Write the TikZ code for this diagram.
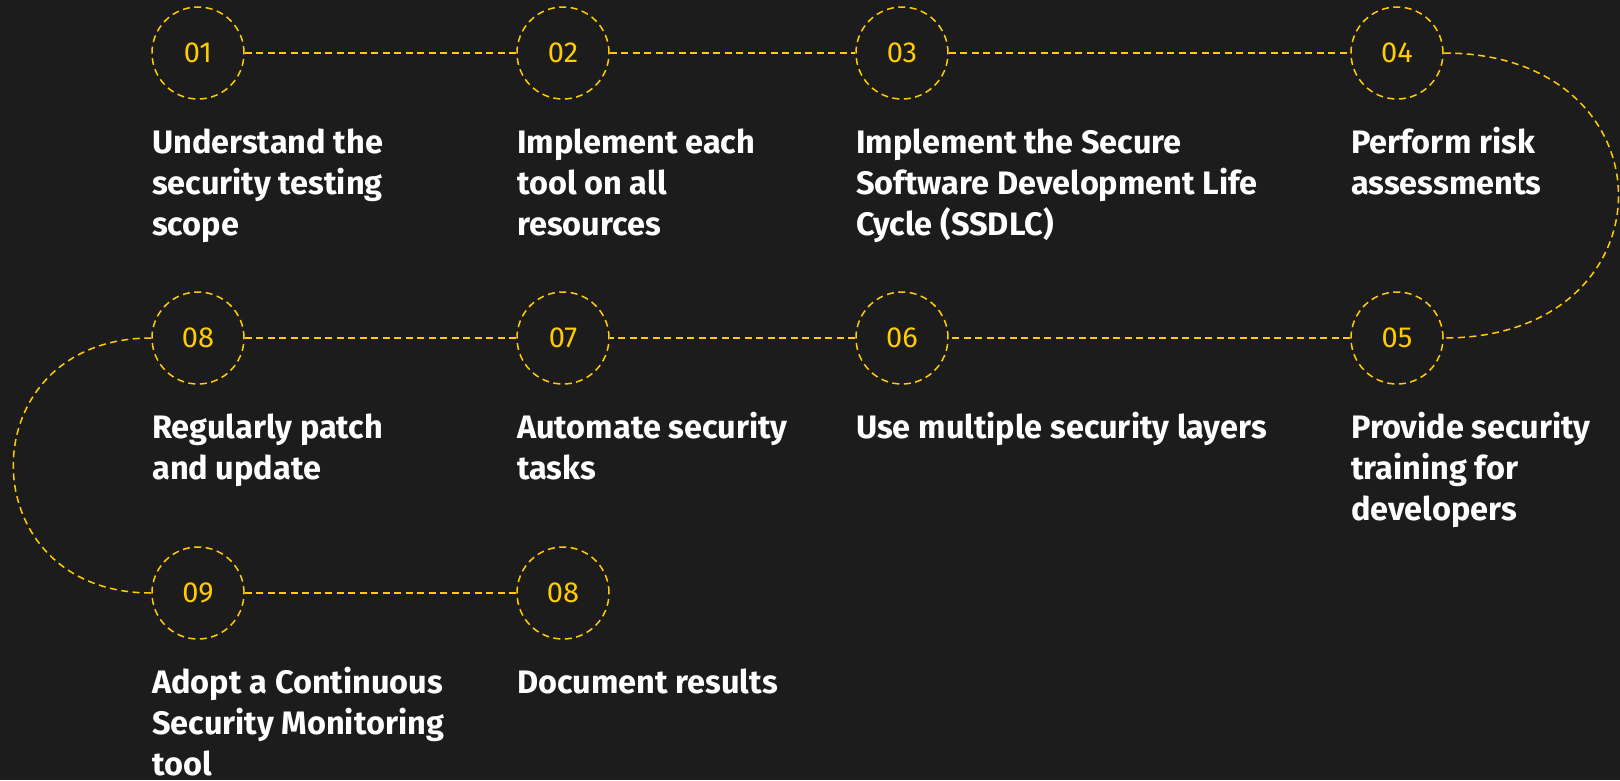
\documentclass[tikz,border=0pt]{standalone}
\usepackage{fontspec}
\setmainfont{Fira Sans}
\definecolor{bg}{HTML}{1C1C1C}
\definecolor{gold}{HTML}{FFCC00}
\begin{document}
\begin{tikzpicture}[x=1pt,y=-1pt,
  stepcircle/.style={circle, draw=gold, line width=1.5pt, dash pattern=on 7pt off 4.5pt,
    minimum size=92pt, inner sep=0pt, text=gold, font=\fontsize{29}{29}\selectfont},
  link/.style={draw=gold, line width=1.5pt, dash pattern=on 7pt off 4.5pt},
  lbl/.style={anchor=base west, align=left, text=white, inner sep=0pt,
    font=\bfseries\fontsize{32.5}{41}\selectfont}
]
\fill[bg] (0,0) rectangle (1620,780);
\useasboundingbox (0,0) rectangle (1620,780);

\node[stepcircle] (n01) at (198,53) {01};
\node[stepcircle] (n02) at (563,53) {02};
\node[stepcircle] (n03) at (902,53) {03};
\node[stepcircle] (n04) at (1397,53) {04};
\node[stepcircle] (n08) at (198,338) {08};
\node[stepcircle] (n07) at (563,338) {07};
\node[stepcircle] (n06) at (902,338) {06};
\node[stepcircle] (n05) at (1397,338) {05};
\node[stepcircle] (n09) at (198,593) {09};
\node[stepcircle] (n08b) at (563,593) {08};

\draw[link] (n01.east) -- (n02.west);
\draw[link] (n02.east) -- (n03.west);
\draw[link] (n03.east) -- (n04.west);
\draw[link] (n04.east) .. controls +(233,0) and +(233,0) .. (n05.east);
\draw[link] (n05.west) -- (n06.east);
\draw[link] (n06.west) -- (n07.east);
\draw[link] (n07.west) -- (n08.east);
\draw[link] (n08.west) .. controls +(-184,0) and +(-184,0) .. (n09.west);
\draw[link] (n09.east) -- (n08b.west);

% base west of a multi-line node = baseline of its last line
\node[lbl] (t01) at (152,235) {Understand the\\security testing\\scope};
\node[lbl] (t02) at (517,235) {Implement each\\tool on all\\resources};
\node[lbl] (t03) at (856,235) {Implement the Secure\\Software Development Life\\Cycle (SSDLC)};
\node[lbl] (t04) at (1351,194) {Perform risk\\assessments};
\node[lbl] (t08) at (152,479) {Regularly patch\\and update};
\node[lbl] (t07) at (517,479) {Automate security\\tasks};
\node[lbl] (t06) at (856,438) {Use multiple security layers};
\node[lbl] (t05) at (1351,520) {Provide security\\training for\\developers};
\node[lbl] (t09) at (152,775) {Adopt a Continuous\\Security Monitoring\\tool};
\node[lbl] (t08b) at (517,693) {Document results};
\end{tikzpicture}
\end{document}
